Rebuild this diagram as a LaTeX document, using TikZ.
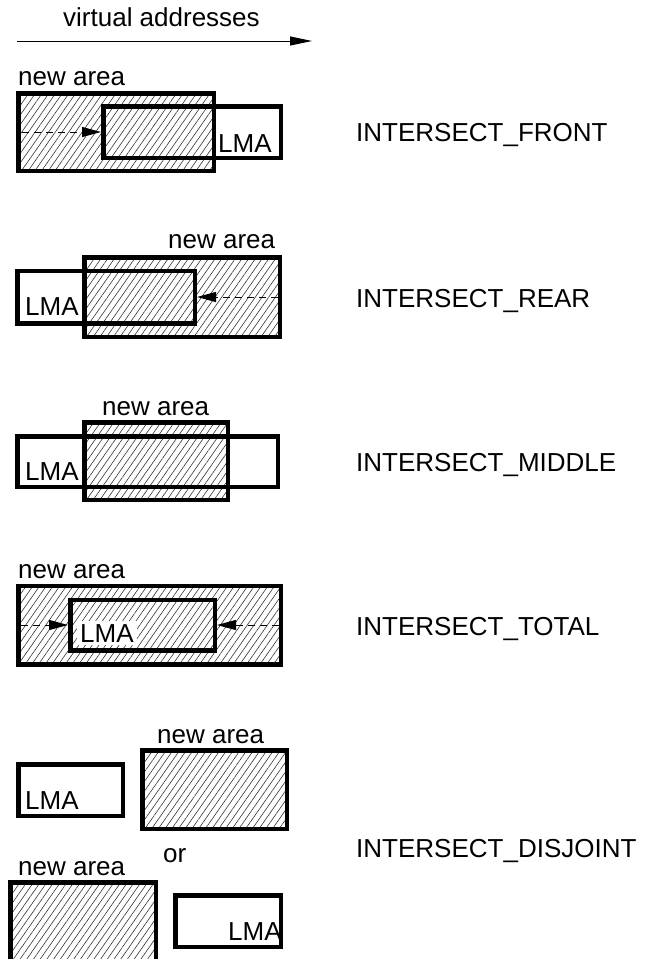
\documentclass[tikz,border=0pt]{standalone}
\usepackage{fontspec}
\setmainfont{Liberation Sans}
\usetikzlibrary{arrows.meta,patterns.meta}
\tikzset{
  newarea/.style={draw, line width=4.5pt, inner sep=0pt,
    pattern={Lines[angle=55,distance=5.5pt,line width=0.6pt]}, pattern color=black!80},
  lmabox/.style={draw, line width=4.5pt, inner sep=0pt},
  txt/.style={anchor=base west, inner sep=0pt, font=\fontsize{26}{31}\selectfont},
  push/.style={dash pattern=on 7pt off 5pt, line width=1pt,
    -{Triangle[length=19pt,width=10pt]}, shorten <=4.5pt},
}

\begin{document}
\begin{tikzpicture}[x=1pt, y={(0,-1pt)}]
  \clip (0,0) rectangle (646,959);

  % Direction of addresses
  \node[txt] (va) at (63,26) {virtual addresses};
  \coordinate (vastart) at (17,41);
  \coordinate (vaend) at (312,41);
  \draw[line width=1pt, -{Triangle[length=22pt,width=9pt]}] (vastart) -- (vaend);

  % INTERSECT_FRONT
  \node[newarea, minimum width=195.5pt, minimum height=77.5pt] (na1) at (116,132) {};
  \node[lmabox, minimum width=177.5pt, minimum height=51.5pt] (lma1) at (192,132) {};
  \node[txt] (na1text) at (18,85) {new area};
  \node[txt] (lma1text) at (218,152) {LMA};
  \draw[push] (na1.west) -- (lma1.west);
  \node[txt] (front) at (356,141) {INTERSECT\_FRONT};

  % INTERSECT_REAR
  \node[newarea, minimum width=195.5pt, minimum height=79.5pt] (na2) at (182,297) {};
  \node[lmabox, minimum width=177.5pt, minimum height=52.5pt] (lma2) at (106,297) {};
  \node[txt] (na2text) at (168,248) {new area};
  \node[txt] (lma2text) at (25,315) {LMA};
  \draw[push] (na2.east) -- (lma2.east);
  \node[txt] (rear) at (356,307) {INTERSECT\_REAR};

  % INTERSECT_MIDDLE
  \node[newarea, minimum width=143.5pt, minimum height=77.5pt] (na3) at (156,461) {};
  \node[lmabox, minimum width=260.5pt, minimum height=50.5pt] (lma3) at (147.5,461.5) {};
  \node[txt] (na3text) at (102,415) {new area};
  \node[txt] (lma3text) at (25,480) {LMA};
  \node[txt] (middle) at (356,471) {INTERSECT\_MIDDLE};

  % INTERSECT_TOTAL
  \node[newarea, minimum width=262.5pt, minimum height=78.5pt] (na4) at (149.5,625) {};
  \node[txt, fill=white, inner sep=3pt] (lma4text) at (77,642) {LMA};
  \node[lmabox, minimum width=144.5pt, minimum height=50.5pt] (lma4) at (142.5,625) {};
  \node[txt] (na4text) at (18,578) {new area};
  \draw[push] (na4.west) -- (lma4.west);
  \draw[push] (na4.east) -- (lma4.east);
  \node[txt] (total) at (356,635) {INTERSECT\_TOTAL};

  % INTERSECT_DISJOINT
  \node[lmabox, minimum width=104.5pt, minimum height=51.5pt] (lma5) at (70.5,790) {};
  \node[newarea, minimum width=144.5pt, minimum height=78.5pt] (na5) at (214.5,789.5) {};
  \node[txt] (na5text) at (157,743) {new area};
  \node[txt] (lma5text) at (25,809) {LMA};
  \node[txt] (or) at (163,862) {or};
  \node[newarea, minimum width=145.5pt, minimum height=81.5pt] (na6) at (83,923) {};
  \node[lmabox, minimum width=105.5pt, minimum height=51.5pt] (lma6) at (228,921) {};
  \node[txt] (na6text) at (18,875) {new area};
  \node[txt] (lma6text) at (228,940) {LMA};
  \node[txt] (disjoint) at (356,857) {INTERSECT\_DISJOINT};
\end{tikzpicture}
\end{document}
